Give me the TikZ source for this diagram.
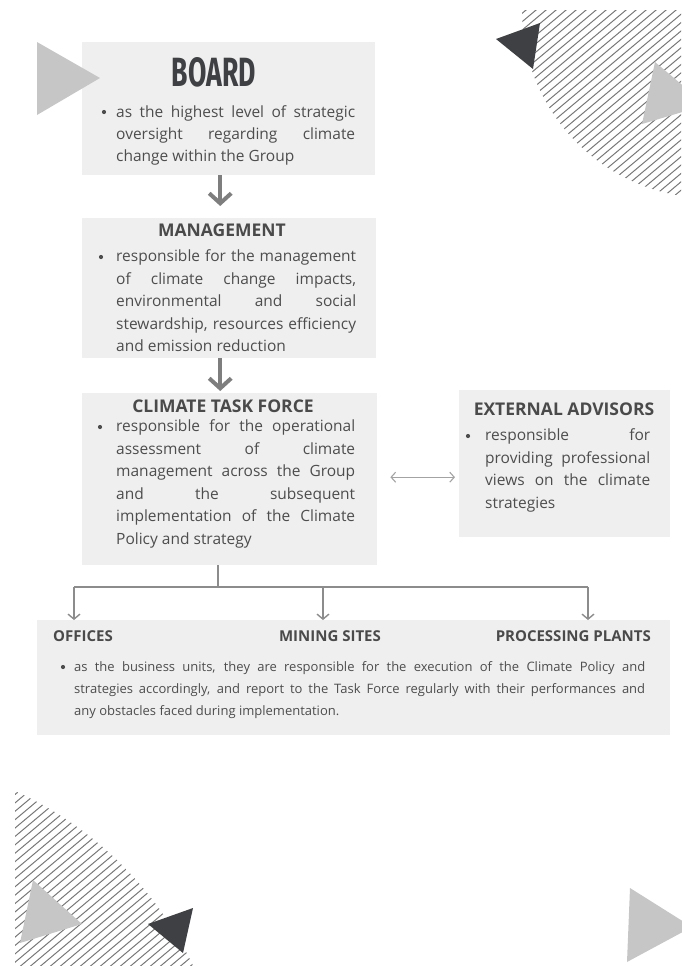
\documentclass[tikz,border=0pt]{standalone}
\usepackage{fontspec}
\setmainfont{Open Sans}
\newfontfamily\titlefont{Fira Sans}
\usetikzlibrary{arrows.meta,calc}
\definecolor{boxgray}{HTML}{EFEFEF}
\definecolor{txt}{HTML}{4D4D4D}
\definecolor{hd}{HTML}{4A4A4A}
\definecolor{arr}{HTML}{7E7E7E}
\definecolor{thin}{HTML}{8C8C8C}
\definecolor{hatchc}{HTML}{777777}
\definecolor{tridark}{HTML}{3F4043}
\definecolor{trilight}{HTML}{C6C6C6}
\newcommand{\jl}[2]{\makebox[#1][s]{#2}}
\begin{document}
\begin{tikzpicture}[x=1pt,y=-1pt,
  box/.style={fill=boxgray,draw=none,inner sep=0pt,anchor=north west},
  tl/.style={anchor=base west,inner sep=0pt,text=txt,font=\fontsize{15.5}{22.5}\selectfont},
  tls/.style={anchor=base west,inner sep=0pt,text=txt,font=\fontsize{13}{22}\selectfont},
  head/.style={anchor=base,inner sep=0pt,text=hd,font=\fontsize{17.5}{20}\selectfont\bfseries},
  subhead/.style={inner sep=0pt,text=hd,font=\fontsize{15}{18}\selectfont\bfseries},
  bul/.style={circle,fill=txt,inner sep=0pt,minimum size=4.2pt},
  bigarr/.style={draw=arr,line width=4pt,-{Straight Barb[length=10pt,width=22pt]}},
  forkline/.style={draw=thin,line width=1.4pt},
  forkarr/.style={draw=thin,line width=1.4pt,-{Straight Barb[length=5pt,width=12pt]}},
  dblarr/.style={draw=thin!80,line width=1.1pt,{Straight Barb[length=4.5pt,width=10pt]}-{Straight Barb[length=4.5pt,width=10pt]}},
  hatchline/.style={draw=hatchc,line width=1pt}]
\useasboundingbox (0,0) rectangle (681,967);

% ---------- decorations: hatched areas ----------
\begin{scope}
  \clip (710,10) circle (188pt);
  \clip (0,10) rectangle (681,400);
  \foreach \i in {0,...,60} \draw[hatchline] (150+\i*10,300) -- ++(358,-300);
\end{scope}
\begin{scope}
  \clip (-134,1121) circle (362pt);
  \clip (15,700) rectangle (681,965);
  \foreach \i in {0,...,70} \draw[hatchline] (-450+\i*10,1000) -- ++(310,-260);
\end{scope}
\fill[tridark] (496,39) -- (540,23) -- (533,69) -- cycle;
\fill[trilight] (655,62) -- (642,124) -- (706,105) -- cycle;
\fill[trilight] (33,880) -- (82,924) -- (20,943) -- cycle;
\fill[tridark] (148,924) -- (193,908) -- (183,953) -- cycle;
\fill[trilight] (630,888) -- (627,962) -- (692,927) -- cycle;

% ---------- boxes ----------
\node[box,minimum width=293pt,minimum height=133pt] (board) at (82,42) {};
\node[box,minimum width=294pt,minimum height=140pt] (mgmt) at (82,218) {};
\node[box,minimum width=295pt,minimum height=172pt] (ctf) at (82,393) {};
\node[box,minimum width=211pt,minimum height=147pt] (ea) at (459,390) {};
\node[box,minimum width=633pt,minimum height=115pt] (units) at (37,620) {};

\fill[trilight] (37,42) -- (37,115) -- (100,78) -- cycle;

% ---------- BOARD ----------
\node[anchor=base,inner sep=0pt,text=tridark] (boardt) at (214,86.5)
  {\resizebox{84pt}{29pt}{\titlefont\bfseries BOARD}};
\node[bul] (bb) at (104,112) {};
\node[tl] (b1) at (116,117) {\jl{239pt}{as the highest level of strategic}};
\node[tl] (b2) at (116,139) {\jl{239pt}{oversight regarding climate}};
\node[tl] (b3) at (116,161) {change within the Group};

% ---------- MANAGEMENT ----------
\node[head] (mt) at (222,236) {MANAGEMENT};
\node[bul] (mb) at (101,257) {};
\node[tl] (m1) at (116,261.5) {\jl{240pt}{responsible for the management}};
\node[tl] (m2) at (116,284) {\jl{240pt}{of climate change impacts,}};
\node[tl] (m3) at (116,306.5) {\jl{240pt}{environmental and social}};
\node[tl] (m4) at (116,329) {\jl{240pt}{stewardship, resources efficiency}};
\node[tl] (m5) at (116,351.5) {and emission reduction};

% ---------- CLIMATE TASK FORCE ----------
\node[head] (ct) at (223,412) {CLIMATE TASK FORCE};
\node[bul] (cb) at (100,427) {};
\node[tl] (c1) at (116,431.5) {\jl{239pt}{responsible for the operational}};
\node[tl] (c2) at (116,454) {\jl{239pt}{assessment of climate}};
\node[tl] (c3) at (116,476.5) {\jl{239pt}{management across the Group}};
\node[tl] (c4) at (116,499) {\jl{239pt}{and the subsequent}};
\node[tl] (c5) at (116,521.5) {\jl{239pt}{implementation of the Climate}};
\node[tl] (c6) at (116,544) {Policy and strategy};

% ---------- EXTERNAL ADVISORS ----------
\node[head] (et) at (564,415) {EXTERNAL ADVISORS};
\node[bul] (eb) at (468,436) {};
\node[tl] (e1) at (485,440.5) {\jl{165pt}{responsible for}};
\node[tl] (e2) at (485,463) {\jl{165pt}{providing professional}};
\node[tl] (e3) at (485,485.5) {\jl{165pt}{views on the climate}};
\node[tl] (e4) at (485,508) {strategies};

% ---------- BUSINESS UNITS ----------
\node[subhead,anchor=base west] (uo) at (53,641) {OFFICES};
\node[subhead,anchor=base] (um) at (330,641) {MINING SITES};
\node[subhead,anchor=base east] (up) at (651,641) {PROCESSING PLANTS};
\node[bul] (ub) at (63,667) {};
\node[tls] (u1) at (74,671) {\jl{571pt}{as the business units, they are responsible for the execution of the Climate Policy and}};
\node[tls] (u2) at (74,693) {\jl{571pt}{strategies accordingly, and report to the Task Force regularly with their performances and}};
\node[tls] (u3) at (74,715) {any obstacles faced during implementation.};

% ---------- connectors ----------
\draw[bigarr,shorten >=12pt] ([xshift=-8.5pt]board.south) -- ([xshift=-8.5pt]board.south |- mgmt.north);
\draw[bigarr,shorten >=2pt] ([xshift=-9pt]mgmt.south) -- ([xshift=-9pt]mgmt.south |- ctf.north);
\draw[dblarr] ([xshift=13pt,yshift=2pt]ctf.east) -- ([xshift=-4pt,yshift=-13.5pt]ea.west);

\coordinate (fm) at (218,587);
\coordinate (fl) at (74,587);
\coordinate (fc) at (323,587);
\coordinate (fr) at (588,587);
\draw[forkline] (fm |- ctf.south) -- (fm);
\draw[forkline] (fl) -- (fr);
\draw[forkarr] (fl) -- (fl |- units.north);
\draw[forkarr] (fc) -- (fc |- units.north);
\draw[forkarr] (fr) -- (fr |- units.north);
\end{tikzpicture}
\end{document}
